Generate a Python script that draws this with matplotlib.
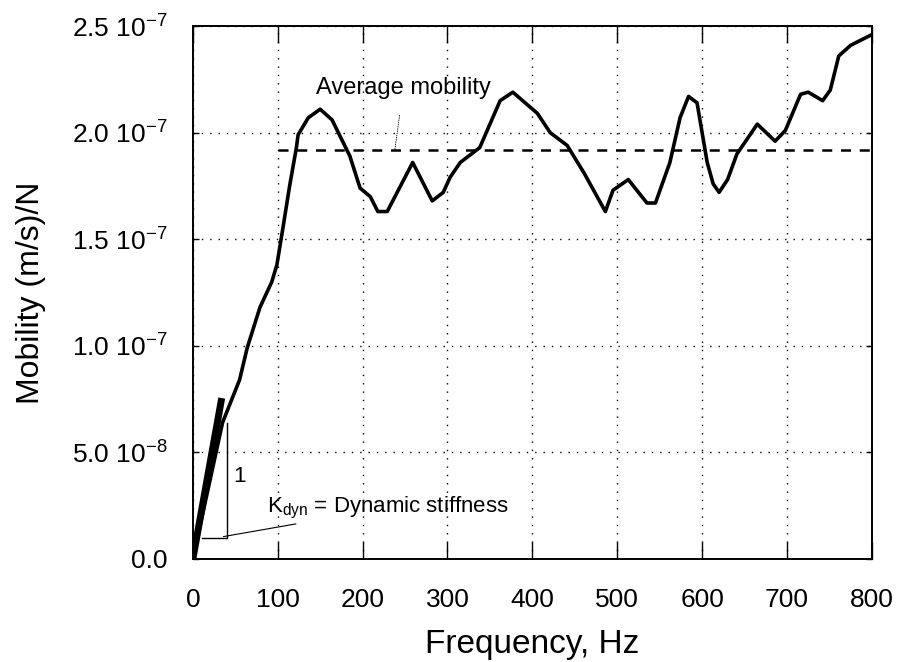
import numpy as np
import matplotlib
matplotlib.use("Agg")
import matplotlib.pyplot as plt

plt.rcParams["font.family"] = ["Liberation Sans", "DejaVu Sans"]
plt.rcParams["mathtext.default"] = "regular"

# mobility curve (Hz, 1e-7 (m/s)/N)
freq = [0, 35, 55, 64, 79, 93, 99, 106, 114, 122, 124, 136, 150, 164, 185, 197,
        209, 218, 229, 259, 282, 295, 303, 315, 338, 362, 377, 406, 421, 441,
        461, 486, 495, 513, 535, 545, 562, 574, 584, 594, 606, 613, 620, 630,
        641, 665, 686, 698, 716, 725, 742, 751, 761, 775, 800]
mobility = [0.0, 0.64, 0.84, 0.99, 1.18, 1.30, 1.38, 1.55, 1.75, 1.93, 1.99,
            2.07, 2.11, 2.06, 1.89, 1.74, 1.70, 1.63, 1.63, 1.86, 1.68, 1.72,
            1.79, 1.86, 1.93, 2.15, 2.19, 2.09, 2.00, 1.94, 1.81, 1.63, 1.73,
            1.78, 1.67, 1.67, 1.86, 2.07, 2.17, 2.14, 1.86, 1.76, 1.72, 1.78,
            1.90, 2.04, 1.96, 2.01, 2.18, 2.19, 2.15, 2.20, 2.36, 2.41, 2.46]
avg_mobility = 1.92
avg_range = [100, 800]

# stiffness slope marker
slope_x = [0, 34]
slope_y = [0, 0.755]
tri_x = [10.6, 40, 40]
tri_y = [0.098, 0.098, 0.64]

yticks = [0, 0.5, 1.0, 1.5, 2.0, 2.5]
ytick_labels = ["0.0", "5.0 10$^{-8}$", "1.0 10$^{-7}$", "1.5 10$^{-7}$",
                "2.0 10$^{-7}$", "2.5 10$^{-7}$"]
xticks = list(range(0, 900, 100))

fig = plt.figure(figsize=(8.97, 6.62), dpi=100)
ax = fig.add_axes([0.215, 0.1556, 0.757, 0.805])

ax.plot(freq, mobility, color="black", lw=2.6, solid_joinstyle="round")
ax.plot(avg_range, [avg_mobility] * 2, color="black", lw=1.8, ls=(0, (4, 3.5)))
ax.plot(slope_x, slope_y, color="black", lw=5, solid_capstyle="butt")
ax.plot(tri_x, tri_y, color="black", lw=1.0)

ax.text(55.4, 0.385, "1", fontsize=16, ha="center", va="center")
ax.annotate("Average mobility", xy=(238, avg_mobility), xytext=(248, 2.21),
            fontsize=17, ha="center", va="center",
            arrowprops=dict(arrowstyle="-", color="black", lw=0.6, ls=":",
                            shrinkA=10, shrinkB=0))
ax.annotate(r"K$_{dyn}$ = Dynamic stiffness", xy=(36, 0.105), xytext=(87, 0.24),
            fontsize=16, ha="left", va="center",
            arrowprops=dict(arrowstyle="-", color="black", lw=0.8,
                            shrinkA=1, shrinkB=0))

ax.set_xlim(0, 800)
ax.set_ylim(0, 2.5)
ax.set_xticks(xticks)
ax.set_yticks(yticks)
ax.set_yticklabels(ytick_labels)
ax.tick_params(axis="both", labelsize=19, direction="in", top=True, right=True,
               width=1.0, colors="black")
ax.tick_params(axis="x", length=12, pad=21)
ax.tick_params(axis="y", length=4, pad=18)
ax.grid(True, color="black", lw=1.0, ls=(0, (1, 5)))
for s in ax.spines.values():
    s.set_linewidth(1.4)

ax.set_xlabel("Frequency, Hz", fontsize=24, labelpad=12)
ax.set_ylabel("Mobility (m/s)/N", fontsize=23, labelpad=19)

fig.savefig("out.png", dpi=100)
